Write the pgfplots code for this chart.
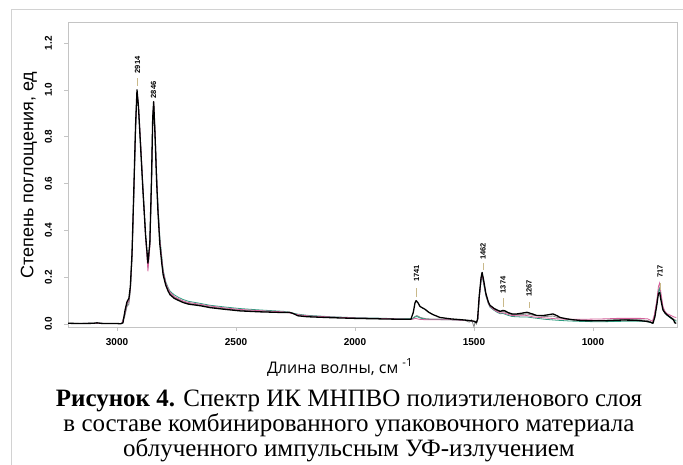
\documentclass[border=0pt]{standalone}
\usepackage{pgfplots}
\pgfplotsset{compat=1.18}
\usepackage{pgfplotstable}
\usepackage{fontspec}
\setmainfont{Liberation Sans}
\newfontfamily\capfont{Liberation Serif}
\newfontfamily\labfont{Open Sans}
\definecolor{cpink}{HTML}{D4609A}
\definecolor{cgreen}{HTML}{2E9C80}
\definecolor{cgray}{HTML}{858585}
\definecolor{cframe}{HTML}{D2D2D2}
\definecolor{caxis}{HTML}{C4C4C4}
\definecolor{cann}{HTML}{C9B98A}

\pgfplotstableread{
x y
3205 0.003
3150 0.002
3100 0.003
3084 0.005
3060 0.002
3000 0.002
2985 0.001
2975 0.005
2966 0.06
2958 0.095
2950 0.11
2944 0.16
2937 0.30
2930 0.55
2922 0.85
2916 1.00
2910 0.93
2900 0.74
2891 0.57
2880 0.38
2870 0.26
2862 0.35
2855 0.62
2850 0.88
2846 0.95
2840 0.80
2834 0.62
2828 0.48
2820 0.34
2812 0.26
2806 0.21
2795 0.165
2785 0.14
2777 0.125
2760 0.11
2740 0.10
2723 0.092
2700 0.085
2650 0.078
2609 0.07
2550 0.063
2483 0.056
2400 0.052
2300 0.049
2275 0.05
2260 0.045
2240 0.035
2200 0.031
2100 0.027
2000 0.024
1900 0.022
1800 0.02
1765 0.02
1755 0.05
1748 0.09
1743 0.10
1735 0.09
1727 0.075
1715 0.068
1706 0.063
1690 0.05
1672 0.04
1660 0.035
1643 0.028
1600 0.022
1550 0.018
1520 0.015
1500 0.012
1490 0.006
1485 0.02
1478 0.12
1470 0.20
1466 0.22
1460 0.19
1450 0.13
1440 0.095
1433 0.08
1415 0.066
1403 0.06
1390 0.054
1378 0.058
1370 0.056
1355 0.048
1340 0.043
1320 0.043
1300 0.046
1277 0.05
1255 0.043
1235 0.036
1210 0.036
1185 0.04
1168 0.043
1150 0.035
1139 0.028
1110 0.022
1084 0.018
1050 0.015
1013 0.014
950 0.014
900 0.016
874 0.017
820 0.016
780 0.012
760 0.008
748 0.003
740 0.03
732 0.08
725 0.13
720 0.135
714 0.10
706 0.06
698 0.048
690 0.04
680 0.032
670 0.025
662 0.018
656 0.005
650 0.003
}\blackdata

\pgfplotstableread{
x y
3205 0.002
3100 0.003
3000 0.002
2980 0.002
2968 0.04
2958 0.085
2950 0.10
2944 0.15
2937 0.29
2930 0.53
2922 0.83
2916 0.99
2910 0.94
2900 0.76
2891 0.58
2880 0.37
2870 0.225
2862 0.33
2855 0.60
2850 0.86
2846 0.95
2840 0.82
2834 0.65
2828 0.50
2820 0.36
2812 0.28
2806 0.225
2795 0.175
2785 0.15
2777 0.135
2760 0.118
2740 0.107
2723 0.099
2700 0.092
2650 0.084
2609 0.077
2550 0.069
2483 0.062
2400 0.057
2300 0.052
2240 0.04
2200 0.035
2100 0.03
2000 0.026
1900 0.024
1800 0.021
1760 0.02
1745 0.024
1730 0.02
1700 0.018
1600 0.018
1520 0.015
1490 0.008
1484 0.02
1478 0.11
1470 0.19
1466 0.21
1460 0.18
1450 0.125
1440 0.09
1433 0.075
1415 0.06
1403 0.053
1390 0.047
1378 0.048
1360 0.042
1340 0.036
1300 0.035
1277 0.036
1250 0.03
1200 0.026
1150 0.022
1100 0.02
1050 0.02
1000 0.021
950 0.022
900 0.024
850 0.024
800 0.024
770 0.022
750 0.012
742 0.04
732 0.10
725 0.16
720 0.175
714 0.13
706 0.075
698 0.055
690 0.045
680 0.04
670 0.035
660 0.03
650 0.028
}\pinkdata

\pgfplotstableread{
x y
3205 0.002
3100 0.003
3000 0.002
2980 0.002
2968 0.04
2958 0.08
2950 0.10
2944 0.15
2937 0.29
2930 0.53
2922 0.83
2916 0.99
2910 0.93
2900 0.75
2891 0.58
2880 0.38
2870 0.24
2862 0.34
2855 0.61
2850 0.87
2846 0.94
2840 0.82
2834 0.65
2828 0.51
2820 0.37
2812 0.29
2806 0.23
2795 0.18
2785 0.155
2777 0.14
2760 0.125
2740 0.113
2723 0.105
2700 0.097
2650 0.088
2609 0.08
2550 0.073
2483 0.066
2400 0.06
2300 0.054
2240 0.042
2200 0.037
2100 0.031
2000 0.027
1900 0.025
1800 0.022
1760 0.022
1748 0.03
1740 0.032
1725 0.025
1700 0.02
1600 0.018
1520 0.015
1490 0.007
1484 0.02
1478 0.11
1470 0.19
1466 0.205
1460 0.175
1450 0.12
1440 0.088
1433 0.072
1415 0.058
1403 0.05
1390 0.044
1378 0.045
1360 0.038
1340 0.032
1300 0.03
1277 0.03
1250 0.026
1200 0.02
1150 0.016
1100 0.013
1050 0.011
1000 0.01
950 0.01
900 0.011
850 0.012
800 0.012
770 0.01
750 0.004
742 0.03
732 0.09
725 0.14
720 0.15
714 0.11
706 0.065
698 0.048
690 0.038
680 0.03
670 0.022
660 0.016
650 0.012
}\greendata

\pgfplotstableread{
x y
3205 0.003
3100 0.002
3000 0.002
2980 0.002
2968 0.03
2958 0.075
2950 0.085
2944 0.14
2937 0.28
2930 0.53
2922 0.84
2916 0.99
2910 0.93
2900 0.75
2891 0.57
2880 0.38
2870 0.25
2862 0.34
2855 0.61
2850 0.87
2846 0.94
2840 0.80
2834 0.63
2828 0.49
2820 0.35
2812 0.27
2806 0.215
2795 0.17
2785 0.145
2777 0.13
2760 0.115
2740 0.104
2723 0.096
2700 0.088
2650 0.081
2609 0.073
2550 0.066
2483 0.059
2400 0.054
2300 0.05
2270 0.048
2240 0.037
2200 0.033
2100 0.028
2000 0.025
1900 0.023
1800 0.021
1760 0.021
1748 0.032
1740 0.036
1725 0.028
1700 0.022
1600 0.02
1540 0.016
1520 0.008
1510 0.018
1500 -0.012
1495 0.01
1490 0.0
1484 0.02
1478 0.115
1470 0.195
1466 0.215
1460 0.185
1450 0.128
1440 0.092
1433 0.077
1415 0.063
1403 0.057
1390 0.051
1378 0.054
1360 0.047
1340 0.04
1300 0.04
1277 0.043
1250 0.037
1200 0.032
1168 0.034
1150 0.028
1100 0.02
1050 0.016
1000 0.015
950 0.016
900 0.018
850 0.019
800 0.018
770 0.015
750 0.006
742 0.035
732 0.09
725 0.145
720 0.155
714 0.115
706 0.068
698 0.052
690 0.042
680 0.034
670 0.027
660 0.02
650 0.015
}\graydata

\begin{document}
\begin{tikzpicture}[x=1pt,y=1pt]
\useasboundingbox (0,0) rectangle (683,464);
% outer frame
\draw[cframe, line width=0.8pt] (11,-10) -- (11,455) -- (700,455);
\begin{axis}[
  at={(68pt,137pt)}, anchor=south west,
  scale only axis, width=609pt, height=305pt,
  x dir=reverse,
  xmin=647, xmax=3206,
  ymin=-0.0128, ymax=1.29,
  xtick={1000,1500,2000,2500,3000},
  ytick={0,0.2,0.4,0.6,0.8,1.0,1.2},
  xtick pos=bottom, ytick pos=left,
  tick align=outside,
  major tick length=3.5pt,
  tick style={caxis, line width=0.6pt},
  axis line style={caxis, line width=0.7pt},
  /pgf/number format/assume math mode=true,
  scaled x ticks=false,
  xticklabel={\pgfmathprintnumber[1000 sep={}]{\tick}},
  yticklabel={\pgfmathprintnumber[fixed, fixed zerofill, precision=1]{\tick}},
  ticklabel style={font=\bfseries\fontsize{10}{12}\selectfont, text=black},
  xticklabel style={yshift=-4pt},
  yticklabel style={xshift=-9pt, rotate=90, anchor=south},
  clip=true,
]
\addplot[cgray, line width=0.8pt] table[x=x,y=y] {\graydata};
\addplot[cgreen, line width=0.8pt] table[x=x,y=y] {\greendata};
\addplot[cpink, line width=0.8pt] table[x=x,y=y] {\pinkdata};
\addplot[black, line width=1.3pt, line join=round] table[x=x,y=y] {\blackdata};

% peak markers
\addplot[cann, line width=0.8pt] coordinates {(2914,1.017) (2914,1.05)};
\addplot[cann, line width=0.8pt] coordinates {(1741,0.115) (1741,0.154)};
\addplot[cann, line width=0.8pt] coordinates {(1462,0.23) (1462,0.26)};
\addplot[cann, line width=0.8pt] coordinates {(1378,0.073) (1378,0.11)};
\addplot[cann, line width=0.8pt] coordinates {(1269,0.068) (1269,0.094)};
\addplot[cann, line width=0.8pt] coordinates {(718,0.145) (718,0.175)};

\begin{scope}[every node/.style={rotate=90, font=\bfseries\fontsize{7.5}{8}\selectfont, inner sep=0pt}]
\node at (axis cs:2914,1.107) {2914};
\node at (axis cs:2846,1.00) {2846};
\node at (axis cs:1741,0.216) {1741};
\node at (axis cs:1462,0.31) {1462};
\node at (axis cs:1378,0.167) {1374};
\node at (axis cs:1269,0.153) {1267};
\node at (axis cs:718,0.224) {717};
\end{scope}
\end{axis}
% y label
\node[rotate=90, font=\fontsize{18}{20}\selectfont] at (29,289) {Степень поглощения, ед};
% x label
\node[anchor=base, font=\labfont\fontsize{16}{18}\selectfont] at (340,91) {Длина волны, см \textsuperscript{-1}};
% caption
\begin{scope}[every node/.style={anchor=base, font=\capfont\fontsize{25}{28}\selectfont, inner sep=0pt}]
\node at (349,58) {\textbf{Рисунок 4.} Спектр ИК МНПВО полиэтиленового слоя};
\node at (349,33) {в составе комбинированного упаковочного материала};
\node at (349,7.5) {облученного импульсным УФ-излучением};
\end{scope}
\end{tikzpicture}
\end{document}
